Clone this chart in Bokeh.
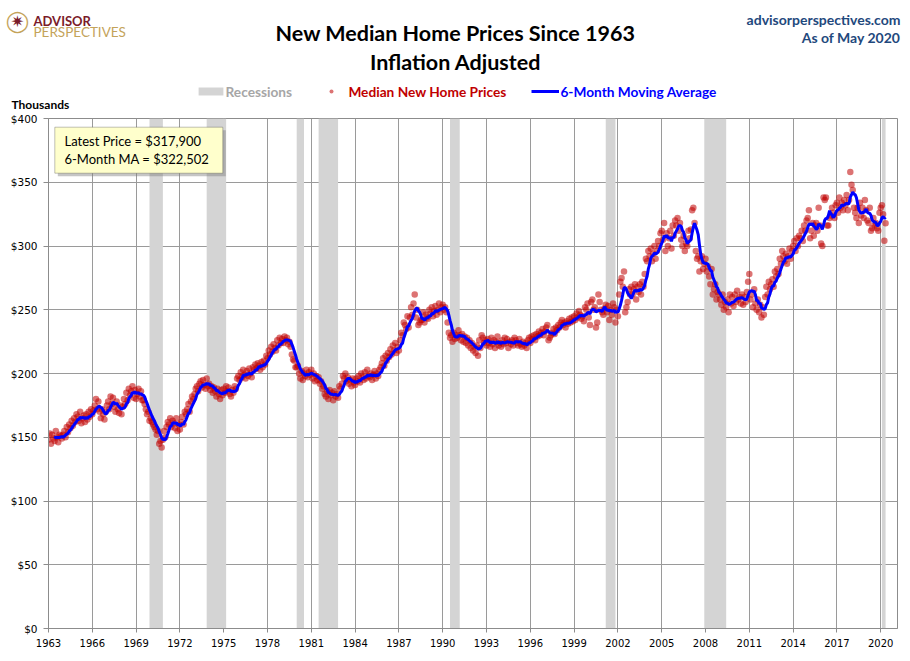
import numpy as np
import pandas as pd
from bokeh.plotting import figure
from bokeh.models import (Range1d, FixedTicker, Label, Legend, LegendItem,
                          BoxAnnotation)
from bokeh.embed import file_html
from bokeh.resources import INLINE

# ---------------- data (inflation-adjusted median new home price, $ thousands) -------------
start_year = 1963  # monthly series starts January 1963, ends May 2020

prices_1963_1969 = [
    148, 153, 145, 152, 149, 147, 155, 150, 146, 152, 151, 149,
    152, 155, 150, 158, 154, 160, 157, 163, 159, 165, 162, 168,
    166, 163, 170, 161, 165, 167, 162, 168, 164, 170, 166, 172,
    168, 171, 175, 180, 172, 178, 170, 165, 172, 168, 164, 170,
    175, 178, 172, 182, 176, 181, 174, 170, 178, 172, 169, 175,
    168, 174, 180, 176, 185, 179, 188, 183, 186, 190, 181, 187,
    180, 184, 188, 182, 186, 179, 179, 176, 172, 168, 170, 163,
]
prices_1970s = [
    165, 162, 160, 158, 156, 152, 155, 145, 147, 142, 148, 155,
    150, 158, 162, 160, 165, 158, 163, 161, 157, 165, 155, 160,
    156, 162, 166, 160, 170, 168, 172, 176, 170, 178, 182, 180,
    184, 188, 190, 186, 192, 194, 189, 195, 191, 188, 196, 190,
    192, 187, 190, 185, 189, 186, 182, 188, 184, 180, 187, 183,
    188, 185, 190, 186, 189, 184, 182, 187, 185, 190, 188, 196,
    198, 195, 201, 197, 203, 199, 196, 202, 198, 204, 200, 197,
    205, 203, 207, 204, 208, 206, 203, 209, 205, 210, 207, 214,
    212, 218, 215, 221, 217, 223, 220, 218, 226, 222, 228, 224,
    227, 224, 229, 226, 228, 223, 225, 221, 215, 211, 210, 205,
]
prices_1980s = [
    205, 206, 200, 196, 202, 195, 200, 198, 203, 197, 201, 199,
    203, 196, 200, 194, 198, 195, 197, 192, 194, 188, 190, 184,
    182, 186, 180, 187, 183, 185, 179, 186, 182, 184, 181, 190,
    188, 192, 198, 196, 200, 194, 197, 192, 195, 190, 196, 193,
    191, 196, 194, 198, 193, 200, 197, 195, 201, 196, 203, 198,
    197, 200, 195, 199, 202, 196, 200, 198, 203, 205, 208, 212,
    206, 214, 210, 216, 213, 219, 215, 222, 218, 224, 216, 221,
    218, 226, 232, 230, 240, 238, 235, 245, 236, 244, 252, 246,
    255, 262, 244, 250, 238, 240, 242, 242, 248, 240, 246, 244,
    243, 250, 247, 252, 245, 249, 253, 246, 250, 255, 248, 252,
]
prices_1990s = [
    254, 250, 252, 248, 240, 232, 228, 230, 225, 232, 227, 230,
    228, 234, 230, 226, 231, 225, 229, 224, 228, 222, 226, 220,
    224, 218, 221, 216, 222, 214, 226, 220, 230, 228, 224, 226,
    222, 227, 224, 221, 228, 223, 226, 220, 225, 229, 222, 224,
    221, 226, 223, 228, 224, 227, 220, 225, 223, 226, 222, 228,
    226, 224, 222, 227, 223, 221, 225, 222, 224, 220, 226, 228,
    224, 229, 227, 230, 226, 231, 229, 233, 230, 232, 235, 230,
    233, 236, 238, 226, 228, 230, 232, 235, 231, 236, 234, 238,
    236, 240, 242, 238, 240, 236, 241, 239, 243, 240, 244, 241,
    245, 242, 247, 244, 249, 246, 243, 245, 241, 252, 250, 255,
]
prices_2000s = [
    244, 238, 256, 258, 250, 252, 236, 240, 262, 256, 250, 248,
    246, 251, 254, 248, 253, 242, 250, 246, 255, 252, 240, 250,
    245, 262, 272, 275, 268, 280, 248, 252, 256, 266, 262, 268,
    262, 266, 270, 258, 268, 264, 270, 262, 272, 268, 278, 290,
    288, 296, 292, 298, 288, 294, 300, 290, 296, 304, 300, 310,
    312, 305, 318, 296, 310, 300, 306, 312, 298, 316, 308, 320,
    316, 322, 312, 318, 305, 300, 308, 296, 302, 300, 312, 306,
    313, 328, 330, 318, 296, 290, 292, 280, 288, 292, 282, 286,
    290, 280, 284, 276, 270, 282, 262, 266, 270, 258, 264, 262,
    258, 254, 262, 250, 256, 252, 258, 248, 262, 255, 260, 253,
]
prices_2010s = [
    262, 256, 265, 258, 260, 255, 262, 254, 260, 256, 264, 272,
    278, 258, 262, 252, 266, 255, 250, 258, 248, 254, 244, 252,
    246, 260, 268, 262, 272, 266, 270, 274, 268, 280, 276, 282,
    278, 290, 286, 296, 292, 288, 294, 286, 292, 298, 290, 296,
    300, 304, 296, 306, 300, 308, 306, 312, 304, 316, 312, 320,
    322, 328, 306, 312, 318, 308, 316, 318, 312, 330, 316, 302,
    300, 338, 336, 338, 316, 316, 322, 324, 330, 326, 322, 332,
    334, 326, 338, 330, 334, 328, 336, 332, 340, 328, 336, 358,
    348, 344, 330, 326, 322, 330, 318, 334, 324, 330, 322, 336,
    328, 320, 318, 330, 312, 314, 322, 316, 318, 314, 312, 326,
]
prices_2020 = [330, 332, 325, 304.1, 317.9]

# NBER recessions (first and last month of shading)
recession_start = ["1969-12", "1973-11", "1980-01", "1981-07",
                   "1990-07", "2001-03", "2007-12", "2020-02"]
recession_end = ["1970-11", "1975-03", "1980-07", "1982-11",
                 "1991-03", "2001-11", "2009-06", "2020-05"]

x_tick_years = list(range(1963, 2021, 3))
x_tick_labels = [str(y) for y in x_tick_years]
y_ticks = [0, 50, 100, 150, 200, 250, 300, 350, 400]
y_tick_labels = ["$0", "$50", "$100", "$150", "$200", "$250", "$300", "$350", "$400"]

latest_text = "Latest Price = $317,900"
ma_text = "6-Month MA = $322,502"

# ---------------- derived series ----------------
prices = (prices_1963_1969 + prices_1970s + prices_1980s + prices_1990s
          + prices_2000s + prices_2010s + prices_2020)
t = start_year + np.arange(len(prices)) / 12.0
ma6 = pd.Series(prices, dtype=float).rolling(6).mean().to_numpy()


def ym(s):
    y, m = s.split("-")
    return int(y) + (int(m) - 1) / 12.0


rec_x0 = [ym(s) for s in recession_start]
rec_x1 = [ym(s) for s in recession_end]

# ---------------- styles ----------------
FONT = "Lato"
W = 906
HEADER_H = 112
REC_COLOR = "#d4d4d4"
DOT_COLOR = "#c00000"
DOT_ALPHA = 0.55
MA_COLOR = "#0000ff"

# ---------------- header figure (titles, logo, legend) ----------------
h = figure(width=W, height=HEADER_H, x_range=Range1d(0, W), y_range=Range1d(HEADER_H, 0),
           min_border=0, output_backend="svg", toolbar_location=None, title=None,
           x_axis_location=None, y_axis_location=None,
           background_fill_color="white", border_fill_color="white")
h.grid.visible = False
h.outline_line_color = None


def hlabel(text, x, y, size, color="#000000", style="normal", align="left",
           baseline="alphabetic", font=FONT):
    h.add_layout(Label(x=x, y=y, text=text, text_font=font, text_font_size=size,
                       text_color=color, text_font_style=style, text_align=align,
                       text_baseline=baseline))


hlabel("New Median Home Prices Since 1963", 455, 32.5, "21.5px", style="bold", align="center")
hlabel("Inflation Adjusted", 455, 61, "21.5px", style="bold", align="center")
hlabel("advisorperspectives.com", 900, 18.5, "14px", color="#1f497d", style="bold", align="right")
hlabel("As of May 2020", 900, 36.5, "14px", color="#1f497d", style="bold", align="right")

# logo
hlabel("\u25ef", 17, 20, "21px", color="#c4a35a", align="center", baseline="middle",
       font="DejaVu Sans")
hlabel("\u2737", 17, 20.5, "16px", color="#7a1b2a", align="center", baseline="middle",
       font="DejaVu Sans")
hlabel("ADVISOR", 33, 20.7, "13px", color="#7a1b2a", style="bold")
hlabel("PERSPECTIVES", 33, 31.2, "13.5px", color="#c4a35a")

hlabel("Thousands", 11, 103.5, "12px", style="bold")

# legend key renderers (a single empty point, used only for the legend swatches)
nan = [float("nan")]
kq = h.quad(left=nan, right=nan, top=nan, bottom=nan, fill_color=REC_COLOR, line_color=None)
ks = h.scatter(nan, nan, size=6.5, fill_color=DOT_COLOR, fill_alpha=DOT_ALPHA, line_color=None)
kl = h.line(nan, nan, line_color=MA_COLOR, line_width=3)

LEG_CY = 91.3


def add_legend(label, renderer, left, color, glyph_w, standoff):
    lg = Legend(items=[LegendItem(label=label, renderers=[renderer])],
                location=(left, HEADER_H - (LEG_CY + 8.3)), orientation="horizontal",
                padding=0, margin=0, spacing=0,
                glyph_width=glyph_w, glyph_height=10, label_height=10,
                label_standoff=standoff,
                label_text_font=FONT, label_text_font_style="bold",
                label_text_font_size="13.7px", label_text_color=color,
                background_fill_alpha=0, border_line_alpha=0)
    h.add_layout(lg)


add_legend("Recessions", kq, 194.5, "#a6a6a6", 31, 0)
add_legend("Median New Home Prices", ks, 326.4, "#c00000", 10, 12)
add_legend("6-Month Moving Average", kl, 531.4, "#0000ff", 28, 1)

# ---------------- main chart ----------------
p = figure(frame_width=849, frame_height=510,
           min_border_left=48, min_border_right=W - 48 - 849,
           min_border_top=118 - HEADER_H, min_border_bottom=30,
           x_range=Range1d(1963, 2021.15), y_range=Range1d(0, 400),
           output_backend="svg", toolbar_location=None, title=None,
           background_fill_color="white", border_fill_color="white")

p.outline_line_color = "#8c8c8c"
p.outline_line_width = 1

rq = p.quad(left=rec_x0, right=rec_x1, bottom=0, top=400,
            fill_color=REC_COLOR, line_color=None)
rs = p.scatter(t, prices, size=6.5, fill_color=DOT_COLOR, fill_alpha=DOT_ALPHA,
               line_color=None)
rl = p.line(t, ma6, line_color=MA_COLOR, line_width=3)

# axes
p.xaxis.ticker = FixedTicker(ticks=x_tick_years)
p.xaxis.major_label_overrides = dict(zip(x_tick_years, x_tick_labels))
p.yaxis.ticker = FixedTicker(ticks=y_ticks)
p.yaxis.major_label_overrides = dict(zip(y_ticks, y_tick_labels))
for ax in (p.xaxis[0], p.yaxis[0]):
    ax.axis_line_color = "#8c8c8c"
    ax.major_tick_line_color = "#8c8c8c"
    ax.minor_tick_line_color = None
    ax.major_tick_in = 0
    ax.major_label_text_font = "DejaVu Sans"
    ax.major_label_text_color = "#000000"
p.xaxis.major_tick_out = 4
p.yaxis.major_tick_out = 5
p.xaxis.major_label_text_font_size = "10px"
p.yaxis.major_label_text_font_size = "10.5px"
p.xaxis.major_label_standoff = 6
p.yaxis.major_label_standoff = 6

p.xgrid.grid_line_color = "#9a9a9a"
p.ygrid.grid_line_color = "#9a9a9a"

# reference page coords -> frame screen coords (x from left, y upward from bottom)
FX, FY = 48, 628


def sx(X):
    return X - FX


def sy(Y):
    return FY - Y


# annotation box with latest values
p.add_layout(BoxAnnotation(left=sx(57.3), right=sx(225.3), top=sy(129.7), bottom=sy(175.7),
                           left_units="screen", right_units="screen",
                           top_units="screen", bottom_units="screen",
                           fill_color="#7f7f7f", fill_alpha=0.45, line_color=None))
p.add_layout(BoxAnnotation(left=sx(54.3), right=sx(222.3), top=sy(126.7), bottom=sy(172.7),
                           left_units="screen", right_units="screen",
                           top_units="screen", bottom_units="screen",
                           fill_color="#ffffcc", fill_alpha=1.0,
                           line_color="#333333", line_width=1))
for txt, Y in ((latest_text, 140.7), (ma_text, 158)):
    p.add_layout(Label(x=sx(64), y=sy(Y), x_units="screen", y_units="screen", text=txt,
                       text_font=FONT, text_font_size="13px", text_color="#000000",
                       text_baseline="middle"))

open("out.html", "w").write(file_html((h, p), INLINE))
